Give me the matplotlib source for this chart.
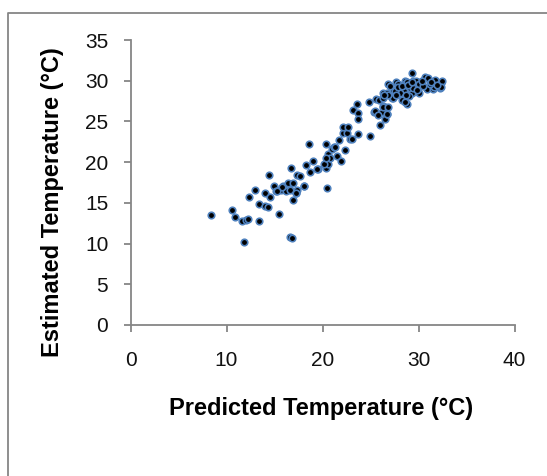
import matplotlib
matplotlib.use("Agg")
import matplotlib.pyplot as plt
from matplotlib.lines import Line2D

# Data: predicted (x) vs estimated (y) temperature
predicted = [
    8.4, 10.55, 10.85, 11.65, 12.05, 12.25, 11.8, 12.3, 13.0, 13.35, 13.42, 14.0,
    14.05, 14.36, 14.42, 14.55, 14.92, 15.2, 15.5, 15.7, 15.9, 16.2, 16.45, 16.62,
    16.7, 16.95, 16.95, 17.2, 17.3, 17.32, 17.65, 16.62, 16.87, 18.1, 18.27, 18.6,
    18.65, 19.05, 19.5, 15.75, 15.23, 17.2, 18.07, 19.46,
    20.36, 20.36, 20.45, 20.55, 20.6, 20.8, 21.0, 21.15, 21.3, 21.5, 21.75, 21.96,
    22.1, 22.17, 22.34, 22.52, 22.69, 22.86, 23.1, 23.2, 23.63, 23.73, 23.73, 23.73,
    24.8, 24.9, 25.36, 25.57, 25.85, 25.99, 26.27, 26.27, 26.51, 26.5, 26.75, 26.75,
    26.86, 20.16, 20.36,
    27.2, 27.38, 27.66, 28.07, 28.25, 28.42, 28.6, 28.83, 29.11, 29.29, 29.36, 29.46,
    29.64, 29.64, 30.08, 30.33, 30.65, 31.0, 30.85, 31.54, 31.61, 31.72, 32.24, 32.3,
    32.42, 32.3, 31.16, 29.89, 28.44, 28.55, 28.62, 28.8, 29.05, 29.45, 29.71, 28.07,
    27.53, 27.35, 27.89, 26.16, 26.33, 26.8, 25.42, 25.78, 26.25, 26.73, 26.8, 26.36,
    27.0, 27.9, 28.3, 28.9, 29.3, 30.0, 30.5, 31.3, 29.8, 28.7, 27.7, 30.4, 31.9,
]
estimated = [
    13.5, 14.15, 13.25, 12.8, 12.85, 13.05, 10.15, 15.75, 16.58, 12.75, 14.85, 16.27,
    14.6, 14.52, 18.38, 15.75, 17.05, 16.45, 13.68, 16.6, 17.07, 16.5, 17.5, 16.57,
    19.25, 17.45, 15.35, 16.2, 16.6, 18.45, 18.3, 10.8, 10.68, 17.05, 19.62, 22.2,
    18.75, 20.15, 19.15, 17.0, 16.5, 16.17, 17.07, 19.2,
    22.2, 19.3, 16.78, 19.73, 21.0, 20.54, 21.6, 21.82, 21.85, 20.75, 22.7, 20.15,
    23.56, 24.35, 21.45, 23.54, 24.3, 22.8, 22.87, 26.4, 27.14, 26.0, 25.26, 23.46,
    27.4, 23.2, 26.2, 27.72, 27.63, 24.56, 26.9, 28.45, 25.26, 26.81, 25.91, 28.53,
    29.65, 19.77, 20.47,
    27.84, 28.86, 29.88, 29.07, 27.63, 28.66, 29.92, 27.1, 29.07, 28.53, 31.0, 30.0,
    29.3, 29.88, 28.45, 29.96, 30.4, 30.35, 28.98, 28.98, 29.19, 30.05, 29.07, 29.76,
    29.96, 29.19, 29.61, 29.4, 28.71, 29.61, 27.36, 29.81, 28.18, 29.12, 30.02, 28.47,
    28.79, 27.89, 29.61, 26.2, 27.84, 28.3, 26.34, 25.73, 26.75, 25.93, 26.75, 28.26,
    29.3, 29.2, 29.4, 29.5, 29.8, 29.6, 29.4, 29.8, 28.9, 28.3, 28.2, 30.0, 29.5,
]

x_ticks = [0, 10, 20, 30, 40]
y_ticks = [0, 5, 10, 15, 20, 25, 30, 35]
x_label = "Predicted Temperature (°C)"
y_label = "Estimated Temperature (°C)"

plt.rcParams['font.family'] = ['Liberation Sans', 'DejaVu Sans']

W, H = 547, 476
fig = plt.figure(figsize=(W / 100, H / 100), dpi=100)
fig.patch.set_facecolor('white')

ax = fig.add_axes([130.5 / W, 1 - 325 / H, 384 / W, 285 / H])
ax.scatter(predicted, estimated, s=22, facecolor='black', edgecolor='#4F81BD',
           linewidth=1.2, zorder=3, clip_on=False)

ax.set_xlim(0, 40)
ax.set_ylim(0, 35)
ax.set_xticks(x_ticks)
ax.set_yticks(y_ticks)
ax.set_xticklabels([str(t) for t in x_ticks])
ax.set_yticklabels([str(t) for t in y_ticks])

gray = '#868686'
for s in ['top', 'right']:
    ax.spines[s].set_visible(False)
for s in ['left', 'bottom']:
    ax.spines[s].set_color(gray)
    ax.spines[s].set_linewidth(1.3)

ax.tick_params(axis='x', direction='out', length=5, width=1.3, color=gray,
               labelsize=15, pad=14, labelcolor='#111111')
ax.tick_params(axis='y', direction='out', length=5, width=1.3, color=gray,
               labelsize=15, pad=11, labelcolor='#111111')

fig.text(321 / W, 1 - 409 / H, x_label, ha='center', va='center',
         fontsize=17, fontweight='bold')
fig.text(53 / W, 1 - 202 / H, y_label, ha='center', va='center',
         fontsize=17, fontweight='bold', rotation=90)

# outer chart frame (only left and top visible in reference)
fig.add_artist(Line2D([7.5 / W, 7.5 / W, 1.0], [0.0, 1 - 13 / H, 1 - 13 / H],
                      transform=fig.transFigure, color=gray, linewidth=1.3))

fig.savefig('out.png', dpi=100, facecolor='white')
